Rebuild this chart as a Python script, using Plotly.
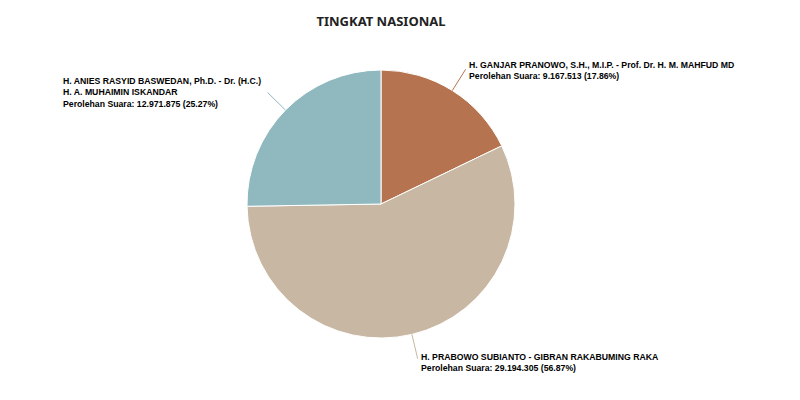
import math
import plotly.graph_objects as go

title = "TINGKAT NASIONAL"
candidates = [
    "H. GANJAR PRANOWO, S.H., M.I.P. - Prof. Dr. H. M. MAHFUD MD",
    "H. PRABOWO SUBIANTO - GIBRAN RAKABUMING RAKA",
    "H. ANIES RASYID BASWEDAN, Ph.D. - Dr. (H.C.)<br>H. A. MUHAIMIN ISKANDAR",
]
votes = [9167513, 29194305, 12971875]
percents = [17.86, 56.87, 25.27]
colors = ["#b5734f", "#c8b7a3", "#8fb9bf"]

W, H = 800, 400
OFF = 8  # page body margin offset
cx, cy, R = 381 - OFF, 204 - OFF, 134

fig = go.Figure(go.Pie(
    values=votes,
    labels=[c.replace("<br>", " ") for c in candidates],
    sort=False,
    direction="clockwise",
    rotation=0,
    marker=dict(colors=colors, line=dict(color="white", width=1)),
    textinfo="none",
    hoverinfo="label+value+percent",
    showlegend=False,
    domain=dict(x=[(cx - R) / W, (cx + R) / W], y=[1 - (cy + R) / H, 1 - (cy - R) / H]),
))

def fmt(v):
    return f"{v:,}".replace(",", ".")

total = sum(votes)
# label placement offsets (pixels): (dx, dy, xanchor, yanchor)
place = [(1, -11, "left", "top"), (1, -9, "left", "top"), (-5, 0, "right", "middle")]
shapes, annos = [], []
cum = 0
for i, v in enumerate(votes):
    mid = (cum + v / 2) / total * 2 * math.pi
    cum += v
    sx, sy = cx + R * math.sin(mid), cy - R * math.cos(mid)
    ex, ey = cx + (R + 25) * math.sin(mid), cy - (R + 25) * math.cos(mid)
    shapes.append(dict(type="line", xref="paper", yref="paper",
                       x0=sx / W, y0=1 - sy / H, x1=ex / W, y1=1 - ey / H,
                       line=dict(color=colors[i], width=1)))
    dx, dy, xa, ya = place[i]
    text = f"{candidates[i]}<br>Perolehan Suara: {fmt(v)} ({percents[i]:.2f}%)"
    annos.append(dict(xref="paper", yref="paper", x=(ex + dx) / W, y=1 - (ey + dy) / H,
                      text=text, showarrow=False, xanchor=xa, yanchor=ya, align="left",
                      font=dict(family="Liberation Sans, Arial", size=8.7, color="#000000", weight="bold")))

fig.update_layout(
    width=W, height=H,
    margin=dict(l=0, r=0, t=0, b=0),
    paper_bgcolor="white", plot_bgcolor="white",
    title=dict(text="<b>" + title + "</b>", x=(381 - OFF) / W, xanchor="center", y=1 - (21 - OFF) / H,
               yanchor="middle",
               font=dict(family="Noto Sans, Open Sans, sans-serif", size=13, color="#222222")),
    shapes=shapes,
    annotations=annos,
)
fig.write_html("out.html")
